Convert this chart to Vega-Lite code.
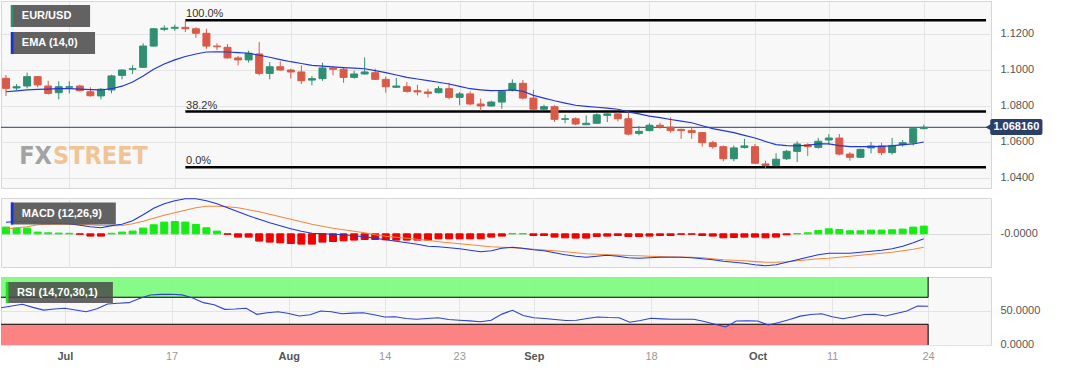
{
"$schema": "https://vega.github.io/schema/vega-lite/v6.json",
"background": "white",
"padding": {"left": 0, "top": 0, "right": 0, "bottom": 0},
"spacing": 8,
"config": {
  "font": "Liberation Sans",
  "view": {"fill": "#f8f8f8", "stroke": "#d6d6d6"},
  "axis": {"domain": false, "ticks": false, "gridColor": "#e4e4e4", "labelFont": "Liberation Sans"}
},
"resolve": {"scale": {"x": "independent", "y": "independent"}},
"datasets": {
"d": [
{"i":-6,"date":"2023-06-23","o":1.0954,"h":1.0972,"l":1.0856,"c":1.0898,"ema":1.0879,"macd":0.00116,"sig":0.00045,"hist":0.00067,"rsi":54.5},
{"i":-5,"date":"2023-06-26","o":1.0900,"h":1.0922,"l":1.0889,"c":1.0907,"ema":1.0884,"macd":0.00122,"sig":0.00060,"hist":0.00057,"rsi":57},
{"i":-4,"date":"2023-06-27","o":1.0911,"h":1.0985,"l":1.0898,"c":1.0963,"ema":1.0889,"macd":0.00126,"sig":0.00070,"hist":0.00057,"rsi":59.6},
{"i":-3,"date":"2023-06-28","o":1.0963,"h":1.0967,"l":1.0904,"c":1.0917,"ema":1.0892,"macd":0.00115,"sig":0.00090,"hist":0.00017,"rsi":55},
{"i":-2,"date":"2023-06-29","o":1.0911,"h":1.0940,"l":1.0863,"c":1.0870,"ema":1.0894,"macd":0.00108,"sig":0.00096,"hist":0.00010,"rsi":51},
{"i":-1,"date":"2023-06-30","o":1.0874,"h":1.0937,"l":1.0837,"c":1.0907,"ema":1.0897,"macd":0.00103,"sig":0.00096,"hist":0.00007,"rsi":52.5},
{"i":0,"date":"2023-07-03","o":1.0904,"h":1.0937,"l":1.0870,"c":1.0907,"ema":1.0896,"macd":0.00100,"sig":0.00095,"hist":0.00005,"rsi":53.6},
{"i":1,"date":"2023-07-04","o":1.0911,"h":1.0918,"l":1.0881,"c":1.0885,"ema":1.0894,"macd":0.00085,"sig":0.00092,"hist":-0.00005,"rsi":51},
{"i":2,"date":"2023-07-05","o":1.0879,"h":1.0904,"l":1.0852,"c":1.0857,"ema":1.0891,"macd":0.00070,"sig":0.00090,"hist":-0.00023,"rsi":48.6},
{"i":3,"date":"2023-07-06","o":1.0856,"h":1.0900,"l":1.0837,"c":1.0893,"ema":1.0889,"macd":0.00060,"sig":0.00083,"hist":-0.00023,"rsi":53},
{"i":4,"date":"2023-07-07","o":1.0889,"h":1.0974,"l":1.0870,"c":1.0967,"ema":1.0896,"macd":0.00082,"sig":0.00080,"hist":0.00005,"rsi":60},
{"i":5,"date":"2023-07-10","o":1.0970,"h":1.1004,"l":1.0948,"c":1.1000,"ema":1.0910,"macd":0.00095,"sig":0.00083,"hist":0.00017,"rsi":61},
{"i":6,"date":"2023-07-11","o":1.1004,"h":1.1026,"l":1.0978,"c":1.1007,"ema":1.0933,"macd":0.00130,"sig":0.00100,"hist":0.00027,"rsi":62},
{"i":7,"date":"2023-07-12","o":1.1015,"h":1.1148,"l":1.1011,"c":1.1133,"ema":1.0967,"macd":0.00190,"sig":0.00125,"hist":0.00057,"rsi":68},
{"i":8,"date":"2023-07-13","o":1.1133,"h":1.1233,"l":1.1129,"c":1.1229,"ema":1.1004,"macd":0.00255,"sig":0.00155,"hist":0.00090,"rsi":73.3},
{"i":9,"date":"2023-07-14","o":1.1226,"h":1.1248,"l":1.1215,"c":1.1232,"ema":1.1033,"macd":0.00300,"sig":0.00185,"hist":0.00117,"rsi":74.2},
{"i":10,"date":"2023-07-17","o":1.1232,"h":1.1252,"l":1.1218,"c":1.1237,"ema":1.1056,"macd":0.00330,"sig":0.00210,"hist":0.00123,"rsi":74.4},
{"i":11,"date":"2023-07-18","o":1.1237,"h":1.1274,"l":1.1211,"c":1.1229,"ema":1.1075,"macd":0.00350,"sig":0.00235,"hist":0.00117,"rsi":73.5},
{"i":12,"date":"2023-07-19","o":1.1229,"h":1.1237,"l":1.1178,"c":1.1204,"ema":1.1089,"macd":0.00350,"sig":0.00260,"hist":0.00093,"rsi":69},
{"i":13,"date":"2023-07-20","o":1.1204,"h":1.1229,"l":1.1118,"c":1.1133,"ema":1.1100,"macd":0.00330,"sig":0.00275,"hist":0.00060,"rsi":62},
{"i":14,"date":"2023-07-21","o":1.1133,"h":1.1148,"l":1.1111,"c":1.1129,"ema":1.1101,"macd":0.00300,"sig":0.00276,"hist":0.00027,"rsi":59},
{"i":15,"date":"2023-07-24","o":1.1126,"h":1.1144,"l":1.1063,"c":1.1067,"ema":1.1100,"macd":0.00260,"sig":0.00270,"hist":-0.00005,"rsi":52.1},
{"i":16,"date":"2023-07-25","o":1.1067,"h":1.1078,"l":1.1026,"c":1.1056,"ema":1.1097,"macd":0.00220,"sig":0.00260,"hist":-0.00033,"rsi":52.5},
{"i":17,"date":"2023-07-26","o":1.1056,"h":1.1107,"l":1.1041,"c":1.1093,"ema":1.1093,"macd":0.00180,"sig":0.00240,"hist":-0.00033,"rsi":53.6},
{"i":18,"date":"2023-07-27","o":1.1089,"h":1.1156,"l":1.0970,"c":1.0981,"ema":1.1082,"macd":0.00145,"sig":0.00220,"hist":-0.00073,"rsi":44.7},
{"i":19,"date":"2023-07-28","o":1.0981,"h":1.1044,"l":1.0948,"c":1.1018,"ema":1.1071,"macd":0.00110,"sig":0.00195,"hist":-0.00083,"rsi":47},
{"i":20,"date":"2023-07-31","o":1.1018,"h":1.1048,"l":1.0996,"c":1.1000,"ema":1.1058,"macd":0.00080,"sig":0.00170,"hist":-0.00090,"rsi":48.6},
{"i":21,"date":"2023-08-01","o":1.1000,"h":1.1007,"l":1.0952,"c":1.0989,"ema":1.1046,"macd":0.00050,"sig":0.00145,"hist":-0.00097,"rsi":46},
{"i":22,"date":"2023-08-02","o":1.0989,"h":1.1026,"l":1.0922,"c":1.0940,"ema":1.1036,"macd":0.00025,"sig":0.00120,"hist":-0.00103,"rsi":42.2},
{"i":23,"date":"2023-08-03","o":1.0944,"h":1.0967,"l":1.0915,"c":1.0952,"ema":1.1026,"macd":0.00006,"sig":0.00095,"hist":-0.00103,"rsi":44},
{"i":24,"date":"2023-08-04","o":1.0952,"h":1.1041,"l":1.0940,"c":1.1011,"ema":1.1022,"macd":0.00000,"sig":0.00075,"hist":-0.00083,"rsi":49.6},
{"i":25,"date":"2023-08-07","o":1.1011,"h":1.1018,"l":1.0970,"c":1.1004,"ema":1.1017,"macd":-0.00005,"sig":0.00055,"hist":-0.00077,"rsi":48.5},
{"i":26,"date":"2023-08-08","o":1.1004,"h":1.1015,"l":1.0929,"c":1.0959,"ema":1.1013,"macd":-0.00010,"sig":0.00040,"hist":-0.00070,"rsi":45.6},
{"i":27,"date":"2023-08-09","o":1.0959,"h":1.0996,"l":1.0952,"c":1.0978,"ema":1.1010,"macd":-0.00020,"sig":0.00025,"hist":-0.00063,"rsi":46.5},
{"i":28,"date":"2023-08-10","o":1.0978,"h":1.1070,"l":1.0974,"c":1.0989,"ema":1.1007,"macd":-0.00030,"sig":0.00010,"hist":-0.00057,"rsi":47.1},
{"i":29,"date":"2023-08-11","o":1.0985,"h":1.1007,"l":1.0944,"c":1.0948,"ema":1.0996,"macd":-0.00045,"sig":-0.00010,"hist":-0.00057,"rsi":44},
{"i":30,"date":"2023-08-14","o":1.0948,"h":1.0963,"l":1.0874,"c":1.0907,"ema":1.0985,"macd":-0.00060,"sig":-0.00025,"hist":-0.00060,"rsi":40.7},
{"i":31,"date":"2023-08-15","o":1.0904,"h":1.0956,"l":1.0900,"c":1.0911,"ema":1.0972,"macd":-0.00075,"sig":-0.00035,"hist":-0.00063,"rsi":41},
{"i":32,"date":"2023-08-16","o":1.0907,"h":1.0933,"l":1.0874,"c":1.0881,"ema":1.0959,"macd":-0.00090,"sig":-0.00045,"hist":-0.00063,"rsi":38.5},
{"i":33,"date":"2023-08-17","o":1.0885,"h":1.0918,"l":1.0859,"c":1.0878,"ema":1.0950,"macd":-0.00105,"sig":-0.00055,"hist":-0.00063,"rsi":37.3},
{"i":34,"date":"2023-08-18","o":1.0878,"h":1.0896,"l":1.0848,"c":1.0870,"ema":1.0941,"macd":-0.00125,"sig":-0.00065,"hist":-0.00063,"rsi":38.5},
{"i":35,"date":"2023-08-21","o":1.0874,"h":1.0911,"l":1.0870,"c":1.0896,"ema":1.0932,"macd":-0.00130,"sig":-0.00080,"hist":-0.00050,"rsi":39.7},
{"i":36,"date":"2023-08-22","o":1.0896,"h":1.0929,"l":1.0837,"c":1.0848,"ema":1.0922,"macd":-0.00140,"sig":-0.00090,"hist":-0.00050,"rsi":37},
{"i":37,"date":"2023-08-23","o":1.0848,"h":1.0878,"l":1.0804,"c":1.0867,"ema":1.0909,"macd":-0.00150,"sig":-0.00100,"hist":-0.00050,"rsi":35.9},
{"i":38,"date":"2023-08-24","o":1.0867,"h":1.0881,"l":1.0804,"c":1.0811,"ema":1.0896,"macd":-0.00165,"sig":-0.00110,"hist":-0.00050,"rsi":35},
{"i":39,"date":"2023-08-25","o":1.0811,"h":1.0841,"l":1.0774,"c":1.0800,"ema":1.0890,"macd":-0.00180,"sig":-0.00120,"hist":-0.00050,"rsi":33.8},
{"i":40,"date":"2023-08-28","o":1.0800,"h":1.0829,"l":1.0796,"c":1.0822,"ema":1.0885,"macd":-0.00170,"sig":-0.00130,"hist":-0.00033,"rsi":36},
{"i":41,"date":"2023-08-29","o":1.0822,"h":1.0889,"l":1.0785,"c":1.0881,"ema":1.0886,"macd":-0.00145,"sig":-0.00134,"hist":-0.00023,"rsi":45},
{"i":42,"date":"2023-08-30","o":1.0889,"h":1.0948,"l":1.0881,"c":1.0926,"ema":1.0889,"macd":-0.00135,"sig":-0.00140,"hist":0.00003,"rsi":50.7},
{"i":43,"date":"2023-08-31","o":1.0926,"h":1.0944,"l":1.0837,"c":1.0844,"ema":1.0882,"macd":-0.00145,"sig":-0.00148,"hist":0.00003,"rsi":43},
{"i":44,"date":"2023-09-01","o":1.0844,"h":1.0889,"l":1.0778,"c":1.0782,"ema":1.0859,"macd":-0.00160,"sig":-0.00155,"hist":-0.00017,"rsi":39.7},
{"i":45,"date":"2023-09-04","o":1.0782,"h":1.0807,"l":1.0778,"c":1.0796,"ema":1.0844,"macd":-0.00170,"sig":-0.00163,"hist":-0.00017,"rsi":38.5},
{"i":46,"date":"2023-09-05","o":1.0796,"h":1.0804,"l":1.0711,"c":1.0726,"ema":1.0829,"macd":-0.00190,"sig":-0.00170,"hist":-0.00033,"rsi":37},
{"i":47,"date":"2023-09-06","o":1.0726,"h":1.0751,"l":1.0704,"c":1.0729,"ema":1.0816,"macd":-0.00210,"sig":-0.00180,"hist":-0.00040,"rsi":35.5},
{"i":48,"date":"2023-09-07","o":1.0729,"h":1.0737,"l":1.0693,"c":1.0700,"ema":1.0804,"macd":-0.00225,"sig":-0.00190,"hist":-0.00043,"rsi":36},
{"i":49,"date":"2023-09-08","o":1.0696,"h":1.0748,"l":1.0696,"c":1.0704,"ema":1.0798,"macd":-0.00234,"sig":-0.00200,"hist":-0.00043,"rsi":38.5},
{"i":50,"date":"2023-09-11","o":1.0704,"h":1.0759,"l":1.0700,"c":1.0751,"ema":1.0793,"macd":-0.00225,"sig":-0.00205,"hist":-0.00027,"rsi":40.7},
{"i":51,"date":"2023-09-12","o":1.0748,"h":1.0759,"l":1.0711,"c":1.0756,"ema":1.0788,"macd":-0.00215,"sig":-0.00210,"hist":-0.00023,"rsi":40},
{"i":52,"date":"2023-09-13","o":1.0756,"h":1.0767,"l":1.0715,"c":1.0729,"ema":1.0782,"macd":-0.00225,"sig":-0.00213,"hist":-0.00017,"rsi":39.7},
{"i":53,"date":"2023-09-14","o":1.0729,"h":1.0770,"l":1.0637,"c":1.0644,"ema":1.0767,"macd":-0.00240,"sig":-0.00217,"hist":-0.00027,"rsi":33},
{"i":54,"date":"2023-09-15","o":1.0648,"h":1.0689,"l":1.0637,"c":1.0659,"ema":1.0756,"macd":-0.00245,"sig":-0.00220,"hist":-0.00027,"rsi":35.5},
{"i":55,"date":"2023-09-18","o":1.0663,"h":1.0704,"l":1.0659,"c":1.0693,"ema":1.0744,"macd":-0.00240,"sig":-0.00225,"hist":-0.00023,"rsi":38.8},
{"i":56,"date":"2023-09-19","o":1.0693,"h":1.0707,"l":1.0674,"c":1.0685,"ema":1.0735,"macd":-0.00235,"sig":-0.00228,"hist":-0.00017,"rsi":38},
{"i":57,"date":"2023-09-20","o":1.0682,"h":1.0737,"l":1.0652,"c":1.0663,"ema":1.0725,"macd":-0.00234,"sig":-0.00230,"hist":-0.00017,"rsi":37.3},
{"i":58,"date":"2023-09-21","o":1.0670,"h":1.0674,"l":1.0618,"c":1.0663,"ema":1.0716,"macd":-0.00234,"sig":-0.00232,"hist":-0.00005,"rsi":37.5},
{"i":59,"date":"2023-09-22","o":1.0663,"h":1.0685,"l":1.0618,"c":1.0652,"ema":1.0707,"macd":-0.00240,"sig":-0.00234,"hist":-0.00005,"rsi":37.3},
{"i":60,"date":"2023-09-25","o":1.0652,"h":1.0656,"l":1.0574,"c":1.0596,"ema":1.0690,"macd":-0.00250,"sig":-0.00240,"hist":-0.00017,"rsi":34},
{"i":61,"date":"2023-09-26","o":1.0596,"h":1.0607,"l":1.0563,"c":1.0574,"ema":1.0674,"macd":-0.00260,"sig":-0.00250,"hist":-0.00023,"rsi":30},
{"i":62,"date":"2023-09-27","o":1.0574,"h":1.0581,"l":1.0493,"c":1.0507,"ema":1.0663,"macd":-0.00275,"sig":-0.00260,"hist":-0.00040,"rsi":25.9},
{"i":63,"date":"2023-09-28","o":1.0507,"h":1.0581,"l":1.0493,"c":1.0567,"ema":1.0652,"macd":-0.00285,"sig":-0.00265,"hist":-0.00037,"rsi":34.8},
{"i":64,"date":"2023-09-29","o":1.0570,"h":1.0618,"l":1.0563,"c":1.0578,"ema":1.0637,"macd":-0.00295,"sig":-0.00270,"hist":-0.00033,"rsi":35},
{"i":65,"date":"2023-10-02","o":1.0574,"h":1.0589,"l":1.0478,"c":1.0482,"ema":1.0622,"macd":-0.00310,"sig":-0.00278,"hist":-0.00033,"rsi":34.8},
{"i":66,"date":"2023-10-03","o":1.0478,"h":1.0496,"l":1.0452,"c":1.0470,"ema":1.0603,"macd":-0.00320,"sig":-0.00284,"hist":-0.00040,"rsi":29},
{"i":67,"date":"2023-10-04","o":1.0470,"h":1.0537,"l":1.0463,"c":1.0504,"ema":1.0585,"macd":-0.00310,"sig":-0.00284,"hist":-0.00033,"rsi":32.5},
{"i":68,"date":"2023-10-05","o":1.0507,"h":1.0556,"l":1.0500,"c":1.0548,"ema":1.0580,"macd":-0.00285,"sig":-0.00280,"hist":-0.00010,"rsi":37},
{"i":69,"date":"2023-10-06","o":1.0548,"h":1.0604,"l":1.0489,"c":1.0589,"ema":1.0578,"macd":-0.00260,"sig":-0.00270,"hist":0.00003,"rsi":42},
{"i":70,"date":"2023-10-09","o":1.0585,"h":1.0593,"l":1.0522,"c":1.0574,"ema":1.0582,"macd":-0.00235,"sig":-0.00260,"hist":0.00010,"rsi":44.5},
{"i":71,"date":"2023-10-10","o":1.0570,"h":1.0622,"l":1.0563,"c":1.0604,"ema":1.0589,"macd":-0.00210,"sig":-0.00250,"hist":0.00033,"rsi":45.6},
{"i":72,"date":"2023-10-11","o":1.0611,"h":1.0644,"l":1.0585,"c":1.0622,"ema":1.0589,"macd":-0.00194,"sig":-0.00245,"hist":0.00050,"rsi":41},
{"i":73,"date":"2023-10-12","o":1.0622,"h":1.0644,"l":1.0526,"c":1.0533,"ema":1.0580,"macd":-0.00194,"sig":-0.00234,"hist":0.00043,"rsi":38.2},
{"i":74,"date":"2023-10-13","o":1.0533,"h":1.0544,"l":1.0496,"c":1.0515,"ema":1.0574,"macd":-0.00194,"sig":-0.00225,"hist":0.00030,"rsi":41},
{"i":75,"date":"2023-10-16","o":1.0515,"h":1.0563,"l":1.0511,"c":1.0559,"ema":1.0574,"macd":-0.00185,"sig":-0.00215,"hist":0.00030,"rsi":44.5},
{"i":76,"date":"2023-10-17","o":1.0567,"h":1.0600,"l":1.0537,"c":1.0578,"ema":1.0574,"macd":-0.00175,"sig":-0.00205,"hist":0.00037,"rsi":44.7},
{"i":77,"date":"2023-10-18","o":1.0578,"h":1.0596,"l":1.0526,"c":1.0541,"ema":1.0576,"macd":-0.00165,"sig":-0.00195,"hist":0.00037,"rsi":42.2},
{"i":78,"date":"2023-10-19","o":1.0541,"h":1.0622,"l":1.0529,"c":1.0581,"ema":1.0578,"macd":-0.00150,"sig":-0.00185,"hist":0.00040,"rsi":46},
{"i":79,"date":"2023-10-20","o":1.0585,"h":1.0611,"l":1.0574,"c":1.0596,"ema":1.0585,"macd":-0.00125,"sig":-0.00170,"hist":0.00047,"rsi":49.6},
{"i":80,"date":"2023-10-23","o":1.0596,"h":1.0682,"l":1.0581,"c":1.0674,"ema":1.0589,"macd":-0.00090,"sig":-0.00155,"hist":0.00067,"rsi":57},
{"i":81,"date":"2023-10-24","o":1.0674,"h":1.0696,"l":1.0670,"c":1.06816,"ema":1.0600,"macd":-0.00050,"sig":-0.00134,"hist":0.00077,"rsi":56.6}
],
"fib": [
{"lvl":"100.0%","p":1.1277},
{"lvl":"38.2%","p":1.0769},
{"lvl":"0.0%","p":1.0459}
]
},
"vconcat": [
{
"width": 990, "height": 187,
"layer": [
  {"data": {"values": [{}]}, "mark": {"type": "text", "text": "FX", "font": "DejaVu Sans Condensed, sans-serif", "fontWeight": "bold", "fontSize": 25, "color": "#a3a3a3", "align": "left", "baseline": "middle"},
   "encoding": {"x": {"datum": -4.75, "type": "quantitative"}, "y": {"datum": 1.0522, "type": "quantitative"}}},
  {"data": {"values": [{}]}, "mark": {"type": "text", "text": "STREET", "font": "DejaVu Sans Condensed, sans-serif", "fontWeight": "bold", "fontSize": 25, "color": "#f0c495", "align": "left", "baseline": "middle"},
   "encoding": {"x": {"datum": -1.55, "type": "quantitative"}, "y": {"datum": 1.0522, "type": "quantitative"}}},
  {"data": {"name": "fib"}, "mark": {"type": "rule", "color": "#000000", "strokeWidth": 2.5},
   "encoding": {"x": {"datum": 11, "type": "quantitative"}, "x2": {"datum": 86.9}, "y": {"field": "p", "type": "quantitative"}}},
  {"data": {"name": "fib"}, "mark": {"type": "text", "align": "left", "baseline": "bottom", "dy": -1, "fontSize": 11, "color": "#333333"},
   "encoding": {"x": {"datum": 11.07, "type": "quantitative"}, "y": {"field": "p", "type": "quantitative"}, "text": {"field": "lvl"}}},
  {"data": {"values": [{}]}, "mark": {"type": "rule", "color": "#2b3f6b", "strokeWidth": 1},
   "encoding": {"y": {"datum": 1.06816, "type": "quantitative"}}},
  {"data": {"name": "d"}, "mark": {"type": "rule", "strokeWidth": 1, "clip": true},
   "encoding": {
     "x": {"field": "i", "type": "quantitative", "scale": {"domain": [-6, 86.9], "nice": false, "zero": false},
           "axis": {"values": [0,10,21,30,37,44,55,65,72,81], "labels": false, "title": null, "grid": true}},
     "y": {"field": "l", "type": "quantitative", "scale": {"domain": [1.03444, 1.13833], "nice": false, "zero": false},
           "axis": {"orient": "right", "values": [1.04, 1.06, 1.08, 1.1, 1.12], "format": ".4f", "title": null, "labelPadding": 9, "labelColor": "#555555", "labelFontSize": 11, "grid": true}},
     "y2": {"field": "h"},
     "color": {"condition": {"test": "datum.c >= datum.o", "value": "#2f8f72"}, "value": "#d95a48"}
   }},
  {"data": {"name": "d"}, "mark": {"type": "bar", "size": 7, "strokeWidth": 1, "clip": true},
   "encoding": {
     "x": {"field": "i", "type": "quantitative", "scale": {"domain": [-6, 86.9], "nice": false, "zero": false},
           "axis": {"values": [0,10,21,30,37,44,55,65,72,81], "labels": false, "title": null, "grid": true}},
     "y": {"field": "o", "type": "quantitative", "scale": {"domain": [1.03444, 1.13833], "nice": false, "zero": false},
           "axis": {"orient": "right", "values": [1.04, 1.06, 1.08, 1.1, 1.12], "format": ".4f", "title": null, "labelPadding": 9, "labelColor": "#555555", "labelFontSize": 11, "grid": true}},
     "y2": {"field": "c"},
     "color": {"condition": {"test": "datum.c >= datum.o", "value": "#2f8f72"}, "value": "#d95a48"},
     "stroke": {"condition": {"test": "datum.c >= datum.o", "value": "#2f8f72"}, "value": "#d95a48"}
   }},
  {"data": {"name": "d"}, "mark": {"type": "line", "color": "#2236d8", "strokeWidth": 1.2, "clip": true},
   "encoding": {
     "x": {"field": "i", "type": "quantitative", "scale": {"domain": [-6, 86.9], "nice": false, "zero": false},
           "axis": {"values": [0,10,21,30,37,44,55,65,72,81], "labels": false, "title": null, "grid": true}},
     "y": {"field": "ema", "type": "quantitative", "scale": {"domain": [1.03444, 1.13833], "nice": false, "zero": false},
           "axis": {"orient": "right", "values": [1.04, 1.06, 1.08, 1.1, 1.12], "format": ".4f", "title": null, "labelPadding": 9, "labelColor": "#555555", "labelFontSize": 11, "grid": true}}
   }},
  {"data": {"values": [{}]}, "mark": {"type": "rect", "color": "#5a5a5a", "opacity": 0.95},
   "encoding": {"x": {"datum": -5.54, "type": "quantitative"}, "x2": {"datum": 1.97}, "y": {"datum": 1.13611, "type": "quantitative"}, "y2": {"datum": 1.12389}}},
  {"data": {"values": [{}]}, "mark": {"type": "rect", "color": "#2f8f72"},
   "encoding": {"x": {"datum": -5.54, "type": "quantitative"}, "x2": {"datum": -5.3}, "y": {"datum": 1.13611, "type": "quantitative"}, "y2": {"datum": 1.12389}}},
  {"data": {"values": [{}]}, "mark": {"type": "text", "text": "EUR/USD", "color": "white", "fontSize": 11, "fontWeight": "bold", "align": "left", "baseline": "middle"},
   "encoding": {"x": {"datum": -4.5, "type": "quantitative"}, "y": {"datum": 1.13, "type": "quantitative"}}},
  {"data": {"values": [{}]}, "mark": {"type": "rect", "color": "#5a5a5a", "opacity": 0.95},
   "encoding": {"x": {"datum": -5.54, "type": "quantitative"}, "x2": {"datum": 2.44}, "y": {"datum": 1.12111, "type": "quantitative"}, "y2": {"datum": 1.10889}}},
  {"data": {"values": [{}]}, "mark": {"type": "rect", "color": "#1a2fe0"},
   "encoding": {"x": {"datum": -5.54, "type": "quantitative"}, "x2": {"datum": -5.3}, "y": {"datum": 1.12111, "type": "quantitative"}, "y2": {"datum": 1.10889}}},
  {"data": {"values": [{}]}, "mark": {"type": "text", "text": "EMA (14,0)", "color": "white", "fontSize": 11, "fontWeight": "bold", "align": "left", "baseline": "middle"},
   "encoding": {"x": {"datum": -4.5, "type": "quantitative"}, "y": {"datum": 1.115, "type": "quantitative"}}},
  {"data": {"values": [{}]}, "mark": {"type": "point", "shape": "triangle-left", "filled": true, "size": 70, "color": "#2b3f6b", "opacity": 1},
   "encoding": {"x": {"datum": 87.2, "type": "quantitative"}, "y": {"datum": 1.06816, "type": "quantitative"}}},
  {"data": {"values": [{}]}, "mark": {"type": "rect", "color": "#2b3f6b", "cornerRadius": 2},
   "encoding": {"x": {"datum": 87.3, "type": "quantitative"}, "x2": {"datum": 92.25}, "y": {"datum": 1.07278, "type": "quantitative"}, "y2": {"datum": 1.06389}}},
  {"data": {"values": [{}]}, "mark": {"type": "text", "text": "1.068160", "color": "white", "fontSize": 11, "fontWeight": "bold", "align": "center", "baseline": "middle"},
   "encoding": {"x": {"datum": 89.78, "type": "quantitative"}, "y": {"datum": 1.06816, "type": "quantitative"}}}
]
},
{
"width": 990, "height": 69,
"layer": [
  {"data": {"name": "d"}, "mark": {"type": "bar", "size": 7, "strokeWidth": 1, "clip": true},
   "encoding": {
     "x": {"field": "i", "type": "quantitative", "scale": {"domain": [-6, 86.9], "nice": false, "zero": false},
           "axis": {"values": [0,10,21,30,37,44,55,65,72,81], "labels": false, "title": null, "grid": true}},
     "y": {"field": "hist", "type": "quantitative", "scale": {"domain": [-0.00332, 0.00358], "nice": false, "zero": false},
           "axis": {"orient": "right", "values": [0], "labelExpr": "'-0.0000'", "title": null, "labelPadding": 9, "labelColor": "#555555", "labelFontSize": 11, "grid": true, "gridColor": "#d9d9d9"}},
     "y2": {"datum": 0},
     "color": {"condition": {"test": "datum.hist > 0", "value": "#14ec14"}, "value": "#f20000"},
     "stroke": {"condition": {"test": "datum.hist > 0", "value": "#14ec14"}, "value": "#f20000"}
   }},
  {"data": {"name": "d"}, "mark": {"type": "line", "color": "#f08a3c", "strokeWidth": 1.1, "clip": true},
   "encoding": {
     "x": {"field": "i", "type": "quantitative", "scale": {"domain": [-6, 86.9], "nice": false, "zero": false},
           "axis": {"values": [0,10,21,30,37,44,55,65,72,81], "labels": false, "title": null, "grid": true}},
     "y": {"field": "sig", "type": "quantitative", "scale": {"domain": [-0.00332, 0.00358], "nice": false, "zero": false},
           "axis": {"orient": "right", "values": [0], "labelExpr": "'-0.0000'", "title": null, "labelPadding": 9, "labelColor": "#555555", "labelFontSize": 11, "grid": true, "gridColor": "#d9d9d9"}}
   }},
  {"data": {"name": "d"}, "mark": {"type": "line", "color": "#2236d8", "strokeWidth": 1.1, "clip": true},
   "encoding": {
     "x": {"field": "i", "type": "quantitative", "scale": {"domain": [-6, 86.9], "nice": false, "zero": false},
           "axis": {"values": [0,10,21,30,37,44,55,65,72,81], "labels": false, "title": null, "grid": true}},
     "y": {"field": "macd", "type": "quantitative", "scale": {"domain": [-0.00332, 0.00358], "nice": false, "zero": false},
           "axis": {"orient": "right", "values": [0], "labelExpr": "'-0.0000'", "title": null, "labelPadding": 9, "labelColor": "#555555", "labelFontSize": 11, "grid": true, "gridColor": "#d9d9d9"}}
   }},
  {"data": {"values": [{}]}, "mark": {"type": "rect", "color": "#5a5a5a", "opacity": 0.95},
   "encoding": {"x": {"datum": -5.54, "type": "quantitative"}, "x2": {"datum": 4.41}, "y": {"datum": 0.00313, "type": "quantitative"}, "y2": {"datum": 0.00093}}},
  {"data": {"values": [{}]}, "mark": {"type": "rect", "color": "#1a2fe0"},
   "encoding": {"x": {"datum": -5.54, "type": "quantitative"}, "x2": {"datum": -5.3}, "y": {"datum": 0.00313, "type": "quantitative"}, "y2": {"datum": 0.00093}}},
  {"data": {"values": [{}]}, "mark": {"type": "text", "text": "MACD (12,26,9)", "color": "white", "fontSize": 11, "fontWeight": "bold", "align": "left", "baseline": "middle"},
   "encoding": {"x": {"datum": -4.5, "type": "quantitative"}, "y": {"datum": 0.00203, "type": "quantitative"}}}
]
},
{
"width": 990, "height": 68,
"layer": [
  {"data": {"values": [{}]}, "mark": {"type": "rect", "color": "#7efb7e", "stroke": "#000000", "strokeWidth": 1, "fillOpacity": 0.93, "clip": true},
   "encoding": {"x": {"datum": -6.3, "type": "quantitative"}, "x2": {"datum": 81}, "y": {"datum": 70, "type": "quantitative"}, "y2": {"datum": 102}}},
  {"data": {"values": [{}]}, "mark": {"type": "rect", "color": "#fb7c7c", "stroke": "#000000", "strokeWidth": 1, "fillOpacity": 0.95, "clip": true},
   "encoding": {"x": {"datum": -6.3, "type": "quantitative"}, "x2": {"datum": 81}, "y": {"datum": -3, "type": "quantitative"}, "y2": {"datum": 30}}},
  {"data": {"name": "d"}, "mark": {"type": "line", "color": "#2f43d0", "strokeWidth": 1.1, "clip": true},
   "encoding": {
     "x": {"field": "i", "type": "quantitative", "scale": {"domain": [-6, 86.9], "nice": false, "zero": false},
           "axis": {"values": [0,10,21,30,37,44,55,65,72,81], "title": null, "grid": true, "labelPadding": 5, "labelFontSize": 11,
                    "labelExpr": "datum.value==0?'Jul':datum.value==10?'17':datum.value==21?'Aug':datum.value==30?'14':datum.value==37?'23':datum.value==44?'Sep':datum.value==55?'18':datum.value==65?'Oct':datum.value==72?'11':'24'",
                    "labelFontWeight": {"condition": {"test": "indexof([0,21,44,65], datum.value) >= 0", "value": "bold"}, "value": "normal"},
                    "labelColor": {"condition": {"test": "indexof([0,21,44,65], datum.value) >= 0", "value": "#555555"}, "value": "#999999"}}},
     "y": {"field": "rsi", "type": "quantitative", "scale": {"domain": [-0.74, 100], "nice": false, "zero": false},
           "axis": {"orient": "right", "values": [0, 50], "format": ".4f", "title": null, "labelPadding": 9, "labelColor": "#555555", "labelFontSize": 11, "grid": true}}
   }},
  {"data": {"values": [{}]}, "mark": {"type": "rect", "color": "#4a4a4a", "opacity": 0.85},
   "encoding": {"x": {"datum": -5.54, "type": "quantitative"}, "x2": {"datum": 4.5}, "y": {"datum": 92.6, "type": "quantitative"}, "y2": {"datum": 61.5}}},
  {"data": {"values": [{}]}, "mark": {"type": "rect", "color": "#22dd22"},
   "encoding": {"x": {"datum": -5.54, "type": "quantitative"}, "x2": {"datum": -5.3}, "y": {"datum": 92.6, "type": "quantitative"}, "y2": {"datum": 61.5}}},
  {"data": {"values": [{}]}, "mark": {"type": "text", "text": "RSI (14,70,30,1)", "color": "white", "fontSize": 11, "fontWeight": "bold", "align": "left", "baseline": "middle"},
   "encoding": {"x": {"datum": -4.5, "type": "quantitative"}, "y": {"datum": 77, "type": "quantitative"}}}
]
}
]
}
